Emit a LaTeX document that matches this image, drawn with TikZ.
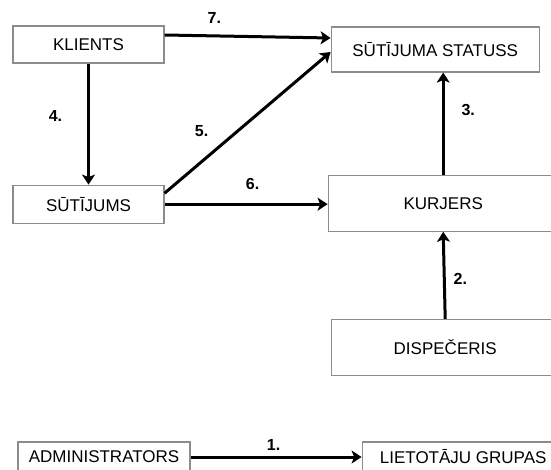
\documentclass[tikz,border=0pt]{standalone}
\usepackage{fontspec}
\setmainfont{Liberation Sans}
\usepackage{xcolor}
\usepackage{tikz}
\usetikzlibrary{arrows.meta,positioning}

\begin{document}
\begin{tikzpicture}[
    x=1pt, y=-1pt,
    entity/.style={rectangle, draw=black!45, line width=1.2pt, inner sep=0pt, align=center,
      font=\fontsize{17pt}{20pt}\selectfont},
    num/.style={inner sep=0pt, font=\fontsize{16pt}{19pt}\selectfont\bfseries},
    flow/.style={->, line width=3pt},
    >={Stealth[length=10pt, width=13pt, inset=2.5pt]},
    node distance=0.2cm
    ]
    \useasboundingbox (0,0) rectangle (551,470);
    \node[entity, minimum width=151pt, minimum height=37pt] (klients) at (88.5,44.5) {KLIENTS};
    \node[entity, minimum width=151pt, minimum height=38pt, below=121pt of klients] (sutijums) {SŪTĪJUMS};
    \node[entity, minimum width=208pt, minimum height=45pt, right=166pt of klients, yshift=-5pt] (statuss) {SŪTĪJUMA STATUSS};
    \node[entity, minimum width=230pt, minimum height=56pt, right=163pt of sutijums, yshift=1pt] (kurjers) {KURJERS};
    \node[entity, minimum width=228pt, minimum height=56pt, below=87pt of kurjers, xshift=2pt] (dispeceris) {DISPEČERIS};
    \node[entity, minimum width=172pt, minimum height=30pt] (admin) at (104,457) {ADMINISTRATORS};
    \node[entity, minimum width=202pt, minimum height=30pt, right=171pt of admin] (grupas) {LIETOTĀJU GRUPAS};
    \draw[flow] ([yshift=9.5pt]klients.east) -- ([yshift=11.5pt]statuss.west) node[num, pos=0.3, yshift=18pt] (n7) {7.};
    \draw[flow] (klients.south) -- (sutijums.north) node[num, midway, xshift=-33pt, yshift=8pt] (n4) {4.};
    \draw[flow] ([yshift=11pt]sutijums.east) -- ([yshift=-2.5pt]statuss.west) node[num, pos=0.44, xshift=-36pt] (n5) {5.};
    \draw[flow] (sutijums.east) -- (sutijums.east -| kurjers.west) node[num, pos=0.54, yshift=20pt] (n6) {6.};
    \draw[flow] (kurjers.north) -- (kurjers.north |- statuss.south) node[num, pos=0.63, xshift=25pt] (n3) {3.};
    \draw[flow] (dispeceris.north) -- (kurjers.south) node[num, pos=0.46, xshift=16pt] (n2) {2.};
    \draw[flow] (admin.east) -- (grupas.west) node[num, pos=0.485, yshift=12pt] (n1) {1.};
  \end{tikzpicture}
\end{document}
